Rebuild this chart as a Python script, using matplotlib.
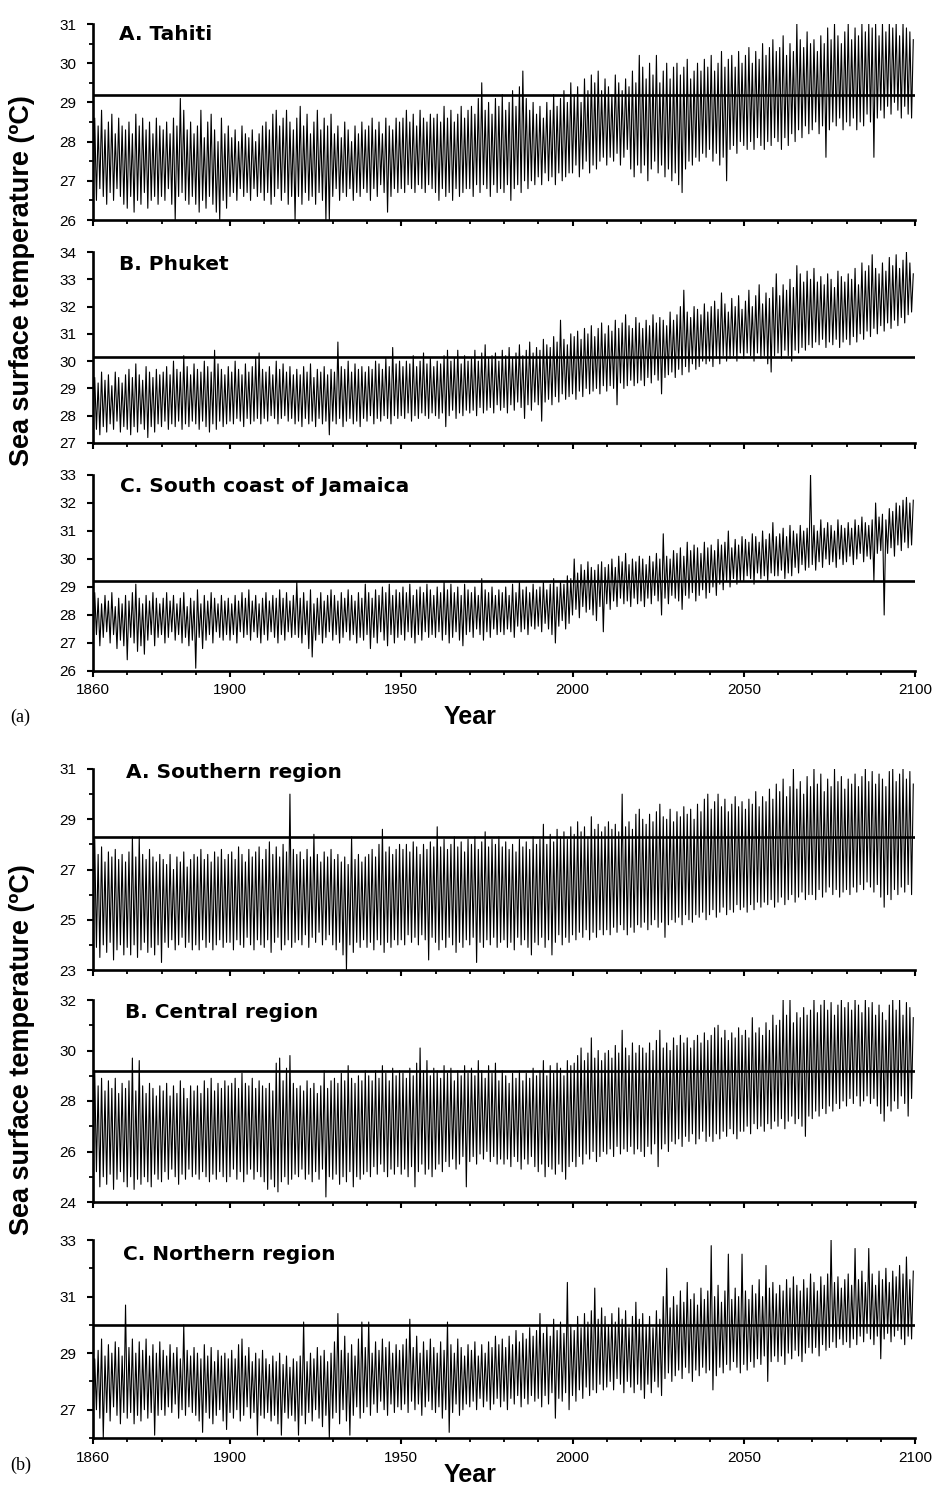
import numpy as np
import matplotlib
matplotlib.use("Agg")
import matplotlib.pyplot as plt
from matplotlib.ticker import MultipleLocator, FixedLocator

plt.rcParams['font.family'] = ['Liberation Sans', 'DejaVu Sans']

years = np.arange(1860, 2100)

# yearly warm-season peak / cool-season trough, one row per decade

# (a) A. Tahiti
tahiti_hi = [
    28.6, 28.4, 28.8, 28.3, 28.5, 28.7, 28.2, 28.6, 28.4, 28.3,
    28.5, 28.2, 28.7, 28.4, 28.6, 28.3, 28.5, 28.2, 28.6, 28.4,
    28.3, 28.5, 28.2, 28.6, 28.4, 29.1, 28.8, 28.3, 28.5, 28.2,
    28.4, 28.8, 28.1, 28.5, 28.7, 28.3, 28.0, 28.6, 28.2, 28.4,
    28.1, 28.3, 28.0, 28.4, 28.2, 28.1, 28.3, 28.0, 28.2, 28.4,
    28.5, 28.3, 28.7, 28.8, 28.4, 28.6, 28.8, 28.5, 28.3, 28.6,
    28.9, 28.4, 28.7, 28.2, 28.5, 28.8, 28.3, 28.6, 28.4, 28.7,
    28.2, 28.4, 28.1, 28.5, 28.3, 28.0, 28.4, 28.2, 28.5, 28.3,
    28.4, 28.6, 28.3, 28.5, 28.2, 28.6, 28.4, 28.3, 28.6, 28.5,
    28.6, 28.8, 28.5, 28.7, 28.4, 28.8, 28.6, 28.5, 28.7, 28.6,
    28.7, 28.5, 28.9, 28.6, 28.8, 28.5, 28.7, 28.9, 28.6, 28.8,
    28.9, 28.7, 29.1, 29.5, 28.8, 29.0, 28.7, 29.1, 28.9, 29.2,
    28.8, 29.0, 29.3, 28.9, 29.4, 29.8, 29.1, 28.8, 29.0, 28.7,
    28.9, 28.6, 29.0, 28.8, 29.2, 28.9, 29.1, 29.3, 29.0, 29.5,
    29.2, 29.4, 29.0, 29.6, 29.3, 29.7, 29.5, 29.8, 29.3, 29.6,
    29.4, 29.2, 29.7, 29.5, 29.3, 29.6, 29.4, 29.8, 29.5, 30.2,
    29.9, 29.6, 30.0, 29.7, 30.2, 29.5, 29.8, 30.0, 29.6, 29.9,
    30.0, 29.7, 29.9, 30.1, 29.6, 29.8, 30.0, 29.8, 30.1, 29.9,
    30.2, 29.8, 30.0, 30.3, 29.9, 30.1, 30.2, 29.9, 30.3, 30.0,
    30.2, 30.4, 30.0, 30.3, 30.1, 30.5, 30.2, 30.4, 30.6, 30.3,
    30.4, 30.7, 30.2, 30.5, 30.3, 31.0, 30.6, 30.4, 30.8, 30.5,
    30.6, 30.3, 30.7, 30.5, 30.9, 30.6, 31.0, 30.7, 30.5, 30.8,
    31.0, 30.6, 30.9, 30.7, 31.0, 30.8, 31.0, 30.9, 31.0, 30.7,
    31.0, 30.8, 31.0, 30.9, 31.0, 30.7, 31.0, 30.9, 30.8, 30.6,
]
tahiti_lo = [
    26.7, 26.5, 26.8, 26.6, 26.4, 26.7, 26.5, 26.8, 26.6, 26.4,
    26.3, 26.6, 26.2, 26.5, 26.4, 26.7, 26.3, 26.5, 26.6, 26.4,
    26.6, 26.5, 26.8, 26.4, 26.0, 26.6, 26.7, 26.5, 26.4, 26.6,
    26.4, 26.2, 26.5, 26.3, 26.6, 26.4, 26.2, 26.0, 26.5, 26.3,
    26.6, 26.7, 26.5, 26.8, 26.6, 26.7, 26.5, 26.8, 26.6, 26.7,
    26.5, 26.7, 26.4, 26.6, 26.8, 26.5, 26.7, 26.4, 26.6, 26.0,
    26.6, 26.4, 26.7, 26.5, 26.6, 26.4, 26.7, 26.5, 26.0, 26.0,
    26.6, 26.8, 26.5, 26.7, 26.6, 26.8, 26.5, 26.7, 26.6, 26.8,
    26.7, 26.5, 26.8, 26.6, 26.9, 26.7, 26.2, 26.6, 26.8, 26.7,
    26.8, 26.7, 26.9, 26.8, 26.7, 26.9, 26.8, 26.7, 26.9, 26.8,
    26.7, 26.5, 26.8, 26.6, 26.7, 26.5, 26.8, 26.6, 26.7, 26.8,
    26.8, 26.6, 26.9, 26.7, 26.9, 26.8, 26.6, 26.9, 26.7, 26.8,
    26.7, 26.9, 26.5, 26.8, 26.9, 26.7, 27.0, 26.8, 27.0, 26.9,
    27.1, 26.9, 27.2, 27.0, 27.1, 26.9, 27.2, 27.0, 27.1, 27.2,
    27.2, 27.4, 27.1, 27.3, 27.5, 27.2, 27.4, 27.3, 27.5, 27.6,
    27.4, 27.6, 27.5, 27.7, 27.4, 27.6, 27.8, 27.3, 27.1, 27.4,
    27.2, 27.4, 27.0, 27.3, 27.5, 27.2, 27.4, 27.1, 27.3, 27.0,
    27.2, 26.9, 26.7, 27.3, 27.5, 27.4, 27.6, 27.5, 27.7, 27.6,
    27.8, 27.5, 27.7, 27.4, 27.6, 27.0, 27.8, 27.9, 27.7, 28.0,
    27.9, 27.8, 28.0, 27.8, 28.1, 27.9, 27.8, 28.0, 27.9, 28.1,
    28.0, 27.8, 28.1, 27.9, 28.2, 28.0, 28.3, 28.1, 28.4, 28.2,
    28.3, 28.5, 28.2, 28.4, 27.6, 28.3, 28.5, 28.4, 28.6, 28.3,
    28.5, 28.4, 28.6, 28.3, 28.5, 28.4, 28.7, 28.5, 27.6, 28.6,
    28.8, 28.6, 28.9, 28.7, 29.0, 28.8, 28.6, 28.9, 28.7, 28.6,
]

# (a) B. Phuket
phuket_hi = [
    29.4, 29.2, 29.6, 29.3, 29.5, 29.1, 29.6, 29.4, 29.2, 29.5,
    29.7, 29.4, 29.9, 29.5, 29.3, 29.8, 29.6, 29.4, 29.7, 29.5,
    29.6, 29.8, 29.5, 30.0, 29.7, 29.6, 30.2, 29.8, 29.5, 29.9,
    29.7, 29.6, 30.0, 29.8, 29.6, 30.4, 29.9, 29.7, 29.5, 29.8,
    29.6, 30.0, 29.7, 29.5, 29.9, 29.6, 29.8, 30.1, 30.3, 29.7,
    29.6, 29.8, 29.5, 30.0, 29.7, 29.9, 29.6, 29.8, 29.5, 29.7,
    29.5, 29.8, 29.6, 29.9, 29.4, 29.7, 29.6, 29.8, 29.5, 29.7,
    29.6, 30.7, 29.8, 29.7, 30.0, 29.6, 29.9, 29.7, 29.8, 29.6,
    29.8, 29.7, 30.0, 29.9, 29.7, 30.1, 29.8, 30.5, 29.9, 30.0,
    29.8, 30.0, 29.9, 30.2, 29.8, 30.0, 30.3, 29.9, 30.1, 29.8,
    30.0, 29.9, 30.2, 30.4, 30.0, 30.1, 30.4, 29.9, 30.2, 30.0,
    30.1, 30.4, 30.0, 30.3, 30.6, 30.1, 30.2, 30.3, 30.0, 30.4,
    30.2, 30.5, 30.1, 30.3, 30.6, 30.2, 30.4, 30.7, 30.3, 30.5,
    30.4, 30.8, 30.6, 30.5, 30.9, 30.7, 31.5, 30.8, 30.6, 31.0,
    30.9, 31.1, 30.8, 31.2, 31.0, 31.3, 30.9, 31.2, 31.4, 31.0,
    31.3, 31.1, 31.5, 31.2, 31.4, 31.7, 31.3, 31.2, 31.6, 31.4,
    31.2, 31.5, 31.3, 31.7, 31.4, 31.6, 31.5, 31.3, 31.8, 31.5,
    31.7, 32.0, 32.6, 31.8, 31.6, 32.0, 31.9, 31.7, 32.1, 31.8,
    32.0, 32.2, 31.9, 32.5, 32.1, 31.8, 32.3, 32.0, 32.4, 31.9,
    32.2, 32.6, 32.0, 32.4, 32.8, 32.1, 32.5, 32.3, 32.7, 33.2,
    32.4, 32.8, 32.6, 33.0, 32.7, 33.5, 33.2, 32.9, 33.3, 33.0,
    33.4, 32.9, 33.1, 32.8, 33.2, 33.0, 32.7, 33.3, 33.1, 32.9,
    33.2, 33.0, 33.4, 32.8, 33.6, 33.3, 33.5, 33.9, 33.4, 33.2,
    33.6, 33.3, 33.8, 33.5, 33.9, 33.4, 33.7, 34.0, 33.6, 33.2,
]
phuket_lo = [
    27.8, 27.5, 27.3, 27.6, 27.4, 27.7, 27.5, 27.8, 27.4, 27.6,
    27.5, 27.3, 27.6, 27.4, 27.7, 27.5, 27.2, 27.6, 27.4, 27.7,
    27.6, 27.8, 27.5, 27.7, 27.6, 27.8, 27.5, 27.7, 27.6, 27.8,
    27.7, 27.5, 27.8, 27.6, 27.4, 27.7, 27.5, 27.8, 27.6, 27.7,
    27.8, 27.7, 27.9, 27.8, 27.6, 27.9, 27.7, 27.8, 27.9, 27.7,
    27.9, 27.8, 28.0, 27.9, 27.7, 27.9, 28.0, 27.8, 27.9, 27.7,
    27.8, 27.6, 27.9, 27.7, 27.8, 27.6, 27.9, 27.7, 27.8, 27.3,
    27.8, 27.7, 27.9, 27.6, 27.8, 27.9, 27.7, 27.8, 27.6, 27.9,
    27.8, 28.0, 27.7, 27.9, 27.8, 28.0, 27.9, 27.7, 28.0, 27.9,
    28.0, 27.9, 28.1, 27.8, 28.0, 27.9, 28.1, 28.0, 27.9, 28.1,
    28.0, 27.9, 28.1, 27.6, 28.0, 28.2, 27.9, 28.1, 28.0, 28.2,
    28.1, 28.2, 28.0, 28.3, 28.1, 28.2, 28.3, 28.1, 28.4, 28.2,
    28.3, 28.1, 28.4, 28.2, 28.5, 28.3, 27.9, 28.4, 28.2, 28.5,
    28.4, 27.8, 28.5, 28.6, 28.4, 28.7, 28.5, 28.8, 28.6, 28.7,
    28.8, 28.6, 28.9, 28.7, 29.0, 28.8, 28.9, 29.0, 28.8, 29.1,
    28.9, 29.1, 29.0, 28.4, 29.2, 29.0, 29.1, 29.3, 29.1, 29.2,
    29.3, 29.1, 29.4, 29.2, 29.5, 29.3, 28.8, 29.4, 29.5, 29.6,
    29.4, 29.7, 29.5, 29.8, 29.6, 29.9, 29.7, 29.8, 30.0, 29.9,
    30.0, 29.8, 30.1, 29.9, 30.2, 30.0, 30.1, 30.2, 30.0, 30.3,
    30.1, 30.3, 30.2, 30.0, 30.3, 30.1, 30.2, 29.9, 29.6, 30.2,
    30.3, 30.1, 30.4, 30.2, 30.0, 30.4, 30.3, 30.5, 30.4, 30.6,
    30.5, 30.7, 30.6, 30.8, 30.5, 30.7, 30.6, 30.8, 30.5, 30.7,
    30.8, 30.6, 30.9, 30.7, 31.0, 30.8, 31.1, 30.9, 31.2, 31.0,
    31.3, 31.1, 31.4, 31.2, 31.5, 31.3, 31.6, 31.4, 31.7, 31.8,
]

# (a) C. South coast of Jamaica
jamaica_hi = [
    28.8, 28.6, 28.4, 28.7, 28.5, 28.8, 28.3, 28.6, 28.4, 28.7,
    28.5, 28.8, 29.1, 28.6, 28.4, 28.7, 28.5, 28.8, 28.6, 28.4,
    28.6, 28.8, 28.5, 28.7, 28.4, 28.6, 28.8, 28.3, 28.6, 28.5,
    28.9, 28.4, 28.7, 28.5, 28.8, 28.6, 28.4, 28.7, 28.5, 28.6,
    28.4, 28.7, 28.5, 28.8, 28.6, 28.9, 28.5, 28.7, 28.4, 28.6,
    28.8, 28.5, 28.7, 28.6, 28.9, 28.6, 28.8, 28.5, 28.7, 29.2,
    28.6, 28.8, 28.5, 28.9, 28.4, 28.6, 28.8, 28.5, 28.7, 28.9,
    28.7, 28.5, 28.8, 28.6, 28.9, 28.7, 28.5, 28.8, 28.6, 29.1,
    28.8, 28.6, 28.9, 28.7, 29.0, 28.8, 29.1, 28.7, 28.9, 28.8,
    29.0, 28.8, 29.1, 28.7, 28.9, 29.0, 28.8, 29.1, 28.9, 28.7,
    29.0, 28.8, 29.2, 28.9, 29.1, 28.8, 29.0, 28.7, 29.1, 28.9,
    28.8, 29.0, 28.7, 29.3, 28.9, 28.8, 29.0, 28.7, 28.9, 28.8,
    29.0, 28.7, 29.1, 28.8, 29.2, 28.9, 29.0, 28.8, 29.1, 28.9,
    29.0, 29.2, 28.9, 29.1, 29.3, 29.0, 29.2, 29.1, 29.4, 29.3,
    30.0, 29.5, 29.8, 29.6, 29.9, 29.7, 29.6, 29.8, 29.9, 29.7,
    29.8, 30.0, 29.7, 30.1, 29.9, 30.2, 29.8, 30.0, 29.9, 30.1,
    30.0, 29.8, 30.1, 29.9, 30.2, 30.0, 30.9, 30.1, 30.0, 30.3,
    30.2, 30.4, 30.1, 30.6, 30.3, 30.5, 30.4, 30.2, 30.6, 30.4,
    30.5, 30.3, 30.7, 30.5, 30.6, 31.0, 30.4, 30.7, 30.5, 30.8,
    30.7, 30.6, 30.9, 30.8, 30.6, 31.0, 30.7, 30.9, 31.3, 30.8,
    30.9, 31.1, 30.8, 31.2, 31.0, 30.9, 31.2, 31.0, 31.1, 33.0,
    31.2, 31.0, 31.4, 31.1, 31.3, 31.2, 31.0, 31.4, 31.2, 31.1,
    31.3, 31.1, 31.4, 31.2, 31.5, 31.3, 31.2, 31.4, 32.0, 31.5,
    31.6, 31.4, 31.8, 31.7, 32.0, 31.9, 32.1, 32.2, 32.0, 32.1,
]
jamaica_lo = [
    27.0, 27.3, 26.9, 27.2, 27.4, 27.0, 27.3, 26.8, 27.1, 26.9,
    26.4, 27.2, 27.0, 26.7, 26.9, 26.6, 27.1, 27.3, 26.9, 27.2,
    27.3, 27.0, 27.2, 27.4, 27.1, 27.3, 27.0, 27.2, 26.9, 27.1,
    26.1, 27.2, 26.8, 27.1, 27.3, 27.0, 27.4, 27.2, 27.1, 27.3,
    27.1, 27.3, 27.0, 27.4, 27.2, 27.3, 27.1, 27.4, 27.2, 27.0,
    27.3, 27.1, 27.4, 27.2, 27.0, 27.3, 27.1, 27.4, 27.2, 27.3,
    27.2, 27.0, 27.3, 26.8, 26.5, 27.1, 27.3, 27.0, 27.2, 27.4,
    27.1, 27.3, 27.0, 27.2, 27.4, 27.1, 27.3, 27.0, 27.2, 27.1,
    27.3, 26.8, 27.2, 27.0, 27.4, 27.1, 26.9, 27.3, 27.0, 27.2,
    27.3, 27.1, 27.4, 27.2, 27.0, 27.3, 27.1, 27.4, 27.2, 27.3,
    27.2, 27.4, 27.1, 27.3, 27.0, 27.2, 27.4, 27.1, 26.9, 27.3,
    27.4, 27.2, 27.5, 27.3, 27.1, 27.4, 27.2, 27.5, 27.3, 27.4,
    27.3, 27.5, 27.4, 27.2, 27.6, 27.4, 27.5, 27.3, 27.6, 27.5,
    27.6, 27.4, 27.7, 27.5, 27.3, 27.0, 27.6, 27.8, 27.5, 27.7,
    28.0, 28.2, 27.9, 28.3, 28.1, 28.2, 28.0, 27.8, 28.3, 27.4,
    28.4, 28.2, 28.5, 28.3, 28.6, 28.4, 28.5, 28.3, 28.6, 28.4,
    28.5, 28.3, 28.6, 28.4, 28.7, 28.5, 28.0, 28.6, 28.4, 28.7,
    28.6, 28.5, 28.2, 28.7, 28.6, 28.8, 28.5, 28.7, 28.9, 28.6,
    28.8, 29.0, 28.7, 29.1, 28.9, 29.2, 29.0, 29.3, 29.1, 29.2,
    29.2, 29.4, 29.3, 29.1, 29.5, 29.3, 29.4, 29.2, 29.5, 29.4,
    29.4, 29.6, 29.3, 29.5, 29.4, 29.7, 29.5, 29.8, 29.6, 29.7,
    29.8, 29.6, 29.9, 29.7, 30.0, 29.8, 29.9, 29.7, 30.0, 29.8,
    29.9, 30.1, 29.8, 30.0, 30.2, 29.9, 30.1, 30.0, 29.2, 30.2,
    30.3, 28.0, 30.2, 30.4, 30.1, 30.5, 30.3, 30.6, 30.4, 30.5,
]

# (b) A. Southern region
south_hi = [
    28.2, 27.6, 27.9, 27.3, 27.7, 27.5, 27.8, 27.4, 27.6, 27.3,
    27.7, 28.3, 27.5, 28.3, 27.6, 27.4, 27.8, 27.5, 27.3, 27.6,
    27.4, 27.2, 27.6, 27.0, 27.5, 27.3, 27.7, 27.1, 27.4, 27.6,
    27.5, 27.8, 27.4, 27.6, 27.3, 27.7, 27.5, 27.8, 27.4, 27.6,
    27.7, 27.4, 27.9, 27.6, 27.3, 27.8, 27.5, 27.7, 27.9, 27.4,
    27.8, 28.1, 27.6, 27.9, 27.5, 28.0, 27.7, 30.0, 27.8, 27.6,
    27.7, 27.4, 27.8, 27.5, 28.4, 27.6, 27.3, 27.7, 27.5, 27.8,
    27.4, 27.6, 27.3, 27.5, 27.2, 28.3, 27.4, 27.6, 27.3, 27.5,
    27.6, 27.8, 27.5, 28.0, 28.6, 27.7, 27.9, 27.6, 27.8, 28.0,
    27.8, 28.0, 27.7, 28.1, 27.9, 27.6, 28.0, 27.8, 28.1, 27.9,
    28.7, 27.9, 28.2, 27.8, 28.0, 28.3, 27.9, 28.1, 27.7, 28.2,
    28.0, 28.3, 27.8, 28.1, 28.5, 27.9, 28.2, 28.0, 28.3, 27.9,
    28.1, 27.8, 28.0, 27.7, 28.2, 27.9, 28.1, 27.8, 28.3, 28.0,
    28.2, 28.8, 28.0, 28.4, 28.1, 28.6, 28.3, 28.5, 28.2, 28.7,
    28.4, 28.9, 28.5, 28.7, 28.3, 29.1, 28.6, 28.8, 28.5, 28.7,
    28.9, 28.6, 28.8, 28.5, 30.0, 28.7, 28.9, 28.6, 29.2, 29.4,
    29.0, 28.8, 29.2, 28.9, 29.3, 29.6, 29.1, 29.0, 29.4, 28.9,
    29.3, 29.1, 29.5, 29.2, 29.4, 29.0, 29.6, 29.3, 29.8, 30.0,
    29.4, 29.7, 30.0, 29.5, 29.8, 29.3, 29.6, 29.9, 29.5, 29.7,
    29.4, 29.8, 29.6, 30.1, 29.5, 29.9, 29.7, 30.2, 29.8, 30.4,
    30.1, 30.6, 29.9, 30.3, 31.0, 30.2, 30.5, 30.0, 30.7, 30.3,
    31.0, 30.4, 30.8, 30.1, 30.6, 30.3, 31.0, 30.5, 30.7, 30.2,
    30.6, 30.4, 30.8, 30.3, 30.7, 31.0, 30.5, 30.9, 30.4, 30.8,
    30.6, 30.3, 30.9, 31.0, 30.5, 30.8, 31.0, 30.6, 30.9, 30.4,
]
south_lo = [
    24.8, 23.9, 23.5, 24.0, 23.7, 24.1, 23.4, 23.8, 24.0, 23.6,
    23.9, 23.6, 24.0, 23.5, 23.8, 24.1, 23.7, 23.9, 23.6, 24.0,
    23.3, 24.1, 23.9, 24.2, 23.8, 24.0, 24.3, 23.9, 24.1, 23.8,
    24.0, 23.8, 24.2, 23.9, 24.1, 23.8, 24.0, 24.2, 23.9, 24.1,
    24.1, 23.8, 24.2, 24.0, 23.9, 24.3, 24.0, 23.8, 24.2, 24.0,
    23.9, 24.2, 23.7, 24.1, 24.3, 23.8, 24.0, 24.2, 23.9, 24.1,
    24.2, 24.0, 24.4, 23.9, 24.3, 24.1, 24.5, 24.0, 24.2, 24.4,
    24.0, 23.8, 24.1, 23.6, 23.0, 24.0, 23.7, 24.1, 23.9, 24.2,
    23.9, 24.1, 23.8, 24.2, 24.0, 23.7, 24.1, 23.9, 24.2, 24.0,
    24.2, 24.0, 24.4, 24.1, 24.3, 24.0, 24.4, 24.2, 23.4, 24.3,
    24.1, 23.8, 24.2, 23.9, 24.3, 24.0, 23.7, 24.1, 23.9, 24.2,
    24.0, 24.3, 23.3, 24.1, 23.9, 24.2, 24.0, 24.3, 23.9, 24.1,
    24.2, 23.9, 24.1, 23.8, 24.3, 24.0, 24.2, 23.9, 23.6, 24.1,
    24.0, 24.3, 23.9, 24.2, 23.6, 24.1, 24.4, 24.0, 24.3, 24.1,
    24.4, 24.2, 24.5, 24.3, 24.6, 24.2, 24.5, 24.3, 24.6, 24.4,
    24.6, 24.4, 24.7, 24.5, 24.8, 24.6, 24.4, 24.7, 24.5, 24.8,
    24.7, 24.9, 24.6, 24.8, 25.0, 24.7, 24.9, 24.3, 24.8, 25.0,
    24.9, 25.1, 24.8, 25.2, 25.0, 24.9, 25.2, 25.1, 25.3, 25.0,
    25.2, 25.4, 25.1, 25.3, 25.5, 25.2, 25.4, 25.3, 25.6, 25.4,
    25.5, 25.3, 25.6, 25.4, 25.7, 25.5, 25.7, 25.6, 25.8, 25.5,
    25.7, 25.9, 25.6, 25.8, 26.0, 25.7, 25.9, 26.1, 25.8, 26.0,
    26.0, 25.8, 26.2, 25.9, 26.1, 26.3, 26.0, 26.2, 25.9, 26.1,
    26.2, 26.0, 26.3, 26.1, 26.4, 26.2, 26.5, 26.3, 26.1, 26.4,
    25.9, 25.5, 26.0, 25.8, 26.2, 26.0, 26.3, 26.1, 26.4, 26.0,
]

# (b) B. Central region
central_hi = [
    29.2, 28.6, 28.9, 28.4, 28.8, 28.5, 28.9, 28.3, 28.7, 28.5,
    28.8, 29.7, 28.4, 29.6, 28.6, 28.3, 28.7, 28.5, 28.2, 28.6,
    28.4, 28.7, 28.2, 28.6, 28.3, 28.8, 28.5, 28.1, 28.6, 28.4,
    28.6, 28.3, 28.8, 28.5, 28.9, 28.4, 28.7, 28.5, 28.8, 28.6,
    28.7, 28.9, 28.5, 29.1, 28.7, 28.6, 28.9, 28.5, 28.8, 28.6,
    28.5, 28.7, 28.4, 29.5, 29.7, 28.8, 29.3, 29.8, 28.7, 28.5,
    28.6, 28.4, 28.8, 28.5, 28.7, 28.3, 28.6, 29.2, 28.5, 28.8,
    28.9, 28.7, 29.1, 28.8, 29.4, 28.9, 28.7, 29.0, 28.8, 29.2,
    29.0, 28.8, 29.2, 28.9, 29.4, 29.1, 28.8, 29.3, 29.0, 29.2,
    29.1, 28.9, 29.3, 29.0, 29.5, 30.1, 29.2, 29.6, 29.0, 29.3,
    29.2, 28.9, 29.4, 29.1, 29.3, 28.8, 29.2, 29.0, 29.4, 29.1,
    29.3, 29.0, 29.6, 29.2, 28.9, 29.4, 29.1, 29.5, 28.8, 29.2,
    29.0, 28.7, 29.1, 28.9, 29.2, 28.8, 29.1, 28.9, 29.3, 29.0,
    29.2, 29.6, 29.0, 29.4, 29.1, 29.5, 29.3, 29.0, 29.6, 29.4,
    29.5, 29.8, 30.1, 29.6, 29.9, 30.5, 29.7, 30.0, 29.6, 29.9,
    30.0, 29.7, 30.2, 29.9, 30.8, 30.1, 29.8, 30.3, 29.9, 30.2,
    30.1, 29.9, 30.3, 30.0, 30.4, 30.8, 30.1, 30.3, 30.0, 30.5,
    30.2, 30.6, 30.3, 30.5, 30.1, 30.4, 30.6, 30.3, 30.7, 30.4,
    30.6, 30.9, 31.0, 30.5, 30.8, 30.4, 30.7, 30.5, 30.9, 30.6,
    30.8, 30.5, 31.3, 30.7, 30.9, 30.6, 31.1, 30.8, 31.4, 31.0,
    31.2, 32.0, 31.4, 32.0, 31.1, 31.5, 31.3, 31.7, 31.4, 31.6,
    32.0, 31.5, 31.8, 32.0, 31.6, 31.9, 31.4, 31.8, 32.0, 31.7,
    31.9, 31.6, 32.0, 31.8, 31.5, 32.0, 31.7, 31.9, 31.4, 31.8,
    31.5, 31.2, 31.8, 32.0, 31.6, 32.0, 31.4, 31.9, 31.7, 31.3,
]
central_lo = [
    25.0, 25.2, 24.6, 25.0, 24.7, 25.1, 24.5, 24.9, 25.2, 24.8,
    24.6, 25.0, 24.5, 24.9, 24.7, 25.0, 24.8, 24.6, 25.1, 24.9,
    24.8, 25.2, 24.9, 25.3, 25.0, 24.7, 25.1, 24.9, 25.3, 25.0,
    25.1, 24.9, 25.2, 25.0, 24.8, 25.1, 24.9, 25.2, 25.0, 24.8,
    25.0, 25.3, 24.9, 25.2, 24.8, 25.1, 25.3, 24.9, 25.2, 25.0,
    24.8, 24.5, 24.9, 24.6, 24.4, 24.8, 25.0, 24.7, 24.9, 25.1,
    25.0, 25.3, 24.9, 25.1, 24.8, 25.2, 24.9, 25.3, 24.2, 25.0,
    24.9, 25.1, 24.7, 25.0, 24.8, 25.2, 24.6, 25.0, 24.9, 25.1,
    25.2, 25.0, 25.4, 25.1, 25.5, 25.2, 25.0, 25.3, 25.1, 25.4,
    25.1, 25.3, 25.0, 25.4, 24.6, 25.2, 25.5, 25.1, 25.3, 25.0,
    25.3, 25.5, 25.2, 25.6, 25.4, 25.7, 25.3, 25.5, 25.8, 24.6,
    25.6, 25.8, 25.5, 25.9, 25.7, 26.0, 25.6, 25.8, 25.5, 25.7,
    25.5, 25.7, 25.4, 25.8, 25.6, 25.3, 25.7, 25.5, 25.8, 25.4,
    25.2, 25.5, 25.0, 25.4, 25.3, 25.1, 25.5, 25.2, 24.9, 25.4,
    25.6, 25.4, 25.8, 25.5, 25.9, 25.7, 26.0, 25.6, 25.8, 26.0,
    25.9, 26.1, 25.8, 26.2, 25.9, 26.1, 26.0, 26.2, 25.9, 26.1,
    26.0, 25.8, 26.2, 25.9, 26.3, 25.4, 26.1, 26.3, 26.0, 26.4,
    26.3, 26.5, 26.2, 26.6, 26.4, 26.7, 26.3, 26.5, 26.8, 26.4,
    26.6, 26.4, 26.7, 26.5, 26.8, 26.6, 26.9, 26.7, 26.5, 26.8,
    26.8, 27.0, 26.7, 27.1, 26.9, 27.0, 26.8, 27.1, 26.9, 27.2,
    27.0, 27.3, 26.9, 27.2, 27.4, 27.1, 27.3, 27.0, 26.6, 27.4,
    27.3, 27.6, 27.4, 27.7, 27.5, 27.8, 27.6, 27.9, 27.7, 28.0,
    27.8, 28.1, 27.9, 28.2, 27.8, 28.0, 28.2, 27.9, 28.1, 27.8,
    27.5, 27.2, 27.8, 27.6, 28.0, 27.7, 28.2, 27.9, 27.4, 28.1,
]

# (b) C. Northern region
north_hi = [
    28.8, 29.1, 29.5, 28.9, 29.3, 29.0, 29.4, 29.2, 28.9, 30.7,
    29.2, 29.5, 29.0, 29.4, 29.1, 29.5, 28.9, 29.3, 29.0, 29.4,
    29.1, 28.9, 29.3, 29.0, 29.2, 28.8, 30.0, 29.1, 28.9, 29.2,
    29.0, 28.8, 29.3, 28.9, 29.2, 28.7, 29.1, 28.9, 29.0, 28.8,
    29.1, 28.8, 29.3, 29.5, 28.9, 29.2, 28.7, 29.0, 28.8, 29.1,
    28.8, 28.6, 28.9, 28.7, 29.0, 28.6, 28.9, 28.5, 28.8, 28.7,
    28.9, 30.1, 28.7, 29.0, 28.8, 29.2, 28.9, 29.1, 28.7, 29.0,
    29.4, 30.4, 29.1, 29.6, 29.0, 29.3, 28.9, 29.5, 30.1, 29.2,
    30.1, 29.0, 29.4, 29.1, 29.5, 29.2, 29.4, 29.0, 29.3, 29.1,
    29.3, 29.5, 30.2, 29.2, 29.6, 29.0, 29.4, 29.1, 29.5, 29.2,
    29.0, 29.4, 29.1, 30.1, 29.3, 29.0, 29.5, 29.2, 28.9, 29.3,
    29.1, 29.4, 28.9, 29.3, 29.0, 29.4, 29.2, 29.6, 29.3, 29.5,
    29.2, 29.6, 29.3, 29.8, 29.4, 29.7, 29.5, 29.9, 29.6, 29.8,
    30.4, 29.7, 30.0, 29.6, 30.2, 29.8, 30.1, 29.7, 31.5, 30.0,
    29.8, 30.3, 29.9, 30.4, 30.1, 30.5, 31.3, 30.2, 30.6, 30.3,
    30.0, 30.4, 30.1, 30.6, 30.2, 30.5, 29.9, 30.3, 30.8, 30.2,
    30.4, 30.0, 30.3, 29.9, 30.5, 30.2, 31.0, 32.0, 30.6, 31.0,
    30.7, 31.2, 30.8, 31.5, 30.9, 31.1, 30.7, 31.3, 30.9, 31.2,
    32.8, 31.0, 31.4, 30.8, 31.2, 32.5, 30.9, 31.3, 31.0, 32.5,
    31.2, 30.9, 31.4, 31.1, 31.6, 31.0, 32.1, 31.3, 31.5, 31.1,
    31.4, 31.2, 31.6, 31.3, 31.7, 31.4, 31.2, 31.6, 31.3, 31.8,
    31.5, 31.2, 31.7, 31.4, 31.8, 33.0, 31.5, 31.7, 31.3, 31.6,
    31.8, 31.4, 32.7, 31.6, 31.9, 31.5, 32.7, 31.8, 31.4, 31.9,
    31.6, 32.0, 31.5, 31.9, 31.7, 32.1, 31.8, 32.4, 31.6, 31.9,
]
north_lo = [
    26.8, 27.0, 26.7, 26.0, 26.9, 26.6, 27.1, 26.8, 26.5, 26.9,
    26.7, 26.9, 26.5, 26.8, 26.6, 27.0, 26.7, 26.9, 26.1, 26.8,
    27.0, 26.8, 27.1, 26.9, 27.2, 26.7, 27.0, 26.8, 27.1, 26.9,
    26.8, 26.6, 26.2, 26.9, 26.7, 26.5, 26.8, 27.0, 26.6, 26.3,
    26.9, 26.7, 27.0, 26.6, 26.8, 27.1, 26.7, 26.9, 26.1, 26.8,
    26.7, 26.9, 26.6, 26.8, 26.5, 26.1, 26.9, 26.7, 26.8, 26.6,
    26.1, 26.8, 26.5, 26.9, 26.6, 27.0, 26.7, 26.4, 26.8, 26.0,
    26.7, 26.9, 26.5, 27.0, 26.6, 26.1, 26.8, 27.1, 26.7, 26.9,
    27.1, 26.8, 27.2, 26.9, 27.3, 27.0, 26.8, 27.2, 26.9, 27.1,
    27.0, 27.2, 26.9, 27.3, 27.0, 27.2, 26.8, 27.1, 27.3, 27.0,
    26.9, 27.1, 26.7, 27.0, 26.2, 26.9, 27.2, 26.8, 27.0, 27.2,
    27.1, 27.3, 27.0, 27.4, 27.1, 27.3, 27.0, 27.2, 27.4, 27.1,
    27.3, 27.0, 27.4, 27.2, 27.5, 27.1, 27.4, 27.2, 27.5, 27.3,
    27.4, 27.1, 27.5, 27.2, 27.6, 26.7, 27.4, 27.3, 27.6, 27.0,
    27.5, 27.3, 27.7, 27.4, 27.8, 27.5, 27.7, 27.6, 27.9, 27.7,
    27.8, 28.0, 27.7, 28.1, 27.9, 27.6, 28.0, 27.8, 27.6, 27.9,
    27.7, 27.4, 27.9, 27.6, 28.0, 27.8, 27.5, 28.1, 28.3, 28.0,
    28.2, 28.4, 28.1, 28.5, 28.3, 28.0, 28.4, 28.2, 28.5, 28.3,
    28.4, 27.7, 28.2, 28.5, 28.3, 28.6, 28.4, 28.7, 28.5, 28.3,
    28.6, 28.4, 28.7, 28.5, 28.8, 28.6, 28.9, 28.0, 28.7, 28.9,
    28.7, 28.9, 28.6, 29.0, 28.8, 29.1, 28.9, 28.7, 29.0, 29.2,
    29.0, 29.2, 28.9, 29.3, 29.1, 29.2, 29.4, 29.2, 29.5, 29.3,
    29.4, 29.2, 29.5, 29.3, 29.6, 29.4, 29.7, 29.5, 29.3, 29.6,
    28.8, 29.5, 29.7, 29.4, 29.6, 29.8, 29.5, 29.3, 29.6, 29.5,
]

panel_names = ["A. Tahiti", "B. Phuket", "C. South coast of Jamaica",
               "A. Southern region", "B. Central region", "C. Northern region"]
panel_hi = [tahiti_hi, phuket_hi, jamaica_hi, south_hi, central_hi, north_hi]
panel_lo = [tahiti_lo, phuket_lo, jamaica_lo, south_lo, central_lo, north_lo]
thresholds = [29.2, 30.15, 29.2, 28.3, 29.2, 30.0]
ylims = [(26, 31), (27, 34), (26, 33), (23, 31), (24, 32), (26, 33)]
yticks = [[26, 27, 28, 29, 30, 31], [27, 28, 29, 30, 31, 32, 33, 34],
          [26, 27, 28, 29, 30, 31, 32, 33], [23, 25, 27, 29, 31],
          [24, 26, 28, 30, 32], [27, 29, 31, 33]]
yminor = [0.5, None, None, 1, 1, 1]
xlabels = [1860, 1900, 1950, 2000, 2050, 2100]

W, H = 938, 1488
fig = plt.figure(figsize=(W / 100, H / 100), dpi=100)

narrow = ['Liberation Sans Narrow', 'Liberation Sans']

# axes boxes in pixels: top, bottom
boxes = [(24, 220), (252, 443), (475, 671), (769, 970), (1000, 1202), (1240, 1438)]
title_pos = [(119, 35), (119, 265), (120, 487), (126, 773), (125, 1012), (123, 1255)]
left_px, right_px = 93, 915

for i in range(6):
    top, bot = boxes[i]
    ax = fig.add_axes([left_px / W, 1 - bot / H, (right_px - left_px) / W, (bot - top) / H])
    hi = np.array(panel_hi[i])
    lo = np.array(panel_lo[i])
    t = np.empty(2 * len(years))
    v = np.empty(2 * len(years))
    t[0::2] = years
    t[1::2] = years + 0.5
    v[0::2] = lo
    v[1::2] = hi
    ax.plot(t, v, color='black', lw=0.8)
    ax.axhline(thresholds[i], color='black', lw=1.9)
    ax.set_xlim(1860, 2100)
    ax.set_ylim(*ylims[i])
    ax.yaxis.set_major_locator(FixedLocator(yticks[i]))
    if yminor[i]:
        ax.yaxis.set_minor_locator(MultipleLocator(yminor[i]))
    ax.xaxis.set_major_locator(FixedLocator(xlabels))
    ax.xaxis.set_minor_locator(MultipleLocator(10))
    for s in ['top', 'right']:
        ax.spines[s].set_visible(False)
    for s in ['left', 'bottom']:
        ax.spines[s].set_linewidth(1.9)
    ax.tick_params(axis='both', which='major', direction='out', length=4, width=1.5,
                   labelsize=11)
    ax.tick_params(axis='both', which='minor', direction='out', length=3, width=1.3)
    ax.tick_params(axis='y', which='major', pad=8)
    ax.tick_params(axis='x', which='major', pad=5)
    ax.set_facecolor('none')
    if i not in (2, 5):
        ax.tick_params(axis='x', labelbottom=False)
    tx, ty = title_pos[i]
    fig.text(tx / W, 1 - ty / H, panel_names[i], fontsize=14.5, fontweight='bold',
             family='DejaVu Sans', ha='left', va='center')

ylab = "Sea surface temperature (ºC)"
fig.text(22 / W, 1 - 281 / H, ylab, rotation=90, fontsize=19.5, fontweight='bold',
         family=narrow, ha='center', va='center')
fig.text(22 / W, 1 - 1050 / H, ylab, rotation=90, fontsize=19.5, fontweight='bold',
         family=narrow, ha='center', va='center')
fig.text(470 / W, 1 - 717 / H, "Year", fontsize=18, fontweight='bold', family=narrow,
         ha='center', va='center')
fig.text(470 / W, 1 - 1475 / H, "Year", fontsize=18, fontweight='bold', family=narrow,
         ha='center', va='center')
fig.text(10 / W, 1 - 717 / H, "(a)", fontsize=13, family='Liberation Serif', ha='left', va='center')
fig.text(10 / W, 1 - 1465 / H, "(b)", fontsize=13, family='Liberation Serif', ha='left', va='center')

fig.savefig("out.png", dpi=100)
